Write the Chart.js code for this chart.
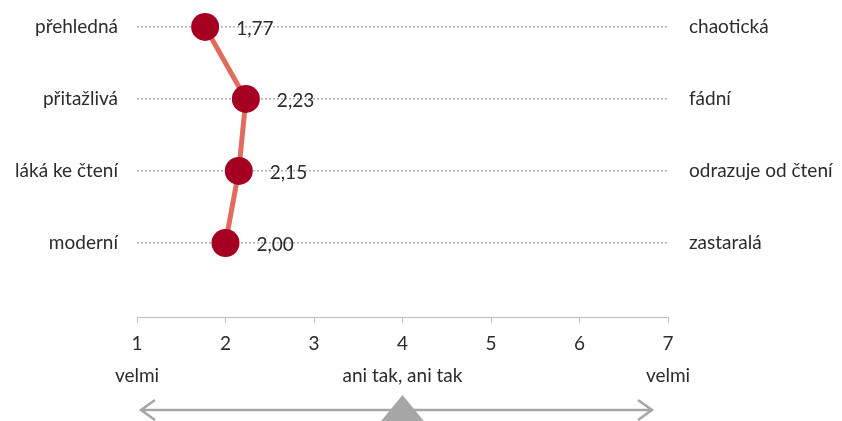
<!DOCTYPE html>
<html lang="cs">
<head>
    <meta charset="UTF-8">
    <title>Sémantický diferenciál</title>
    <script src="https://cdn.jsdelivr.net/npm/chart.js"></script>
    <style>
        body {
            margin: 0;
            background-color: white;
        }
        .chart-container {
            width: 842px;
            height: 421px;
        }
    </style>
</head>
<body>
    <div class="chart-container">
        <canvas id="grafDiferencial"></canvas>
    </div>

    <script>
        // Data
        const leveStitky = ['přehledná', 'přitažlivá', 'láká ke čtení', 'moderní'];
        const praveStitky = ['chaotická', 'fádní', 'odrazuje od čtení', 'zastaralá'];
        const hodnoty = [1.77, 2.23, 2.15, 2.00];
        const skala = [1, 2, 3, 4, 5, 6, 7];
        const popiskySkaly = [
            { hodnota: 1, text: 'velmi' },
            { hodnota: 4, text: 'ani tak, ani tak' },
            { hodnota: 7, text: 'velmi' }
        ];

        const textColor = '#2b2b2b';
        const font = { family: 'Lato', size: 19 };

        const body = hodnoty.map((v, i) => ({ x: v, y: i }));

        // popisky hodnot vedle bodů
        const popiskyHodnot = {
            id: 'popiskyHodnot',
            afterDatasetsDraw(chart) {
                const ctx = chart.ctx;
                const meta = chart.getDatasetMeta(0);
                ctx.save();
                ctx.font = '19px Lato';
                ctx.fillStyle = textColor;
                ctx.textAlign = 'left';
                ctx.textBaseline = 'middle';
                meta.data.forEach((el, i) => {
                    ctx.fillText(hodnoty[i].toFixed(2).replace('.', ','), el.x + 31, el.y + 2);
                });
                ctx.restore();
            }
        };

        // popisky pod osou a šipka
        const spodniPopisky = {
            id: 'spodniPopisky',
            afterDraw(chart) {
                const ctx = chart.ctx;
                const x = chart.scales.x;
                ctx.save();
                ctx.font = '19px Lato';
                ctx.fillStyle = textColor;
                ctx.textAlign = 'center';
                ctx.textBaseline = 'middle';
                popiskySkaly.forEach(p => {
                    ctx.fillText(p.text, x.getPixelForValue(p.hodnota), 376);
                });

                const x1 = x.getPixelForValue(1) + 4;
                const x7 = x.getPixelForValue(7) - 16;
                const y = 410;
                ctx.strokeStyle = '#a6a6a6';
                ctx.lineWidth = 2.5;
                ctx.beginPath();
                ctx.moveTo(x1, y);
                ctx.lineTo(x7, y);
                ctx.moveTo(x1 + 14, y - 10);
                ctx.lineTo(x1, y);
                ctx.lineTo(x1 + 14, y + 10);
                ctx.moveTo(x7 - 14, y - 10);
                ctx.lineTo(x7, y);
                ctx.lineTo(x7 - 14, y + 10);
                ctx.stroke();

                const xs = x.getPixelForValue(4);
                ctx.fillStyle = '#a6a6a6';
                ctx.beginPath();
                ctx.moveTo(xs, 395);
                ctx.lineTo(xs - 27, 428);
                ctx.lineTo(xs + 27, 428);
                ctx.closePath();
                ctx.fill();
                ctx.restore();
            }
        };

        const osaY = (stitky, sirka, padding) => ({
            type: 'linear',
            reverse: true,
            min: -0.18,
            max: 4.028,
            afterBuildTicks: scale => {
                scale.ticks = stitky.map((s, i) => ({ value: i }));
            },
            afterFit: scale => {
                scale.width = sirka;
                scale.paddingTop = 0;
                scale.paddingBottom = 0;
            },
            ticks: {
                color: textColor,
                font: font,
                padding: padding,
                callback: v => stitky[v]
            },
            grid: {
                color: '#b0b0b0',
                lineWidth: 1.5,
                drawTicks: false
            },
            border: {
                display: false,
                dash: [2, 2]
            }
        });

        const ctx = document.getElementById('grafDiferencial').getContext('2d');
        new Chart(ctx, {
            type: 'line',
            data: {
                datasets: [{
                    data: body,
                    borderColor: '#e06b5e',
                    borderWidth: 5,
                    pointBackgroundColor: '#a50021',
                    pointBorderColor: '#a50021',
                    pointBorderWidth: 0,
                    pointRadius: 14,
                    pointHoverRadius: 14,
                    clip: false,
                    tension: 0
                }]
            },
            options: {
                responsive: true,
                maintainAspectRatio: false,
                animation: false,
                layout: { padding: 0 },
                plugins: {
                    legend: { display: false },
                    tooltip: { enabled: false }
                },
                scales: {
                    x: {
                        type: 'linear',
                        min: 1,
                        max: 7,
                        afterBuildTicks: scale => {
                            scale.ticks = skala.map(v => ({ value: v }));
                        },
                        afterFit: scale => {
                            scale.height = 104;
                        },
                        ticks: {
                            color: textColor,
                            font: font,
                            padding: 9
                        },
                        grid: {
                            drawOnChartArea: false,
                            drawTicks: true,
                            tickLength: 6,
                            color: '#bfbfbf'
                        },
                        border: {
                            display: true,
                            color: '#bfbfbf'
                        }
                    },
                    y: Object.assign(osaY(leveStitky, 137, 19), { position: 'left' }),
                    yR: Object.assign(osaY(praveStitky, 174, 13), {
                        position: 'right',
                        grid: { display: false }
                    })
                }
            },
            plugins: [popiskyHodnot, spodniPopisky]
        });
    </script>
</body>
</html>
